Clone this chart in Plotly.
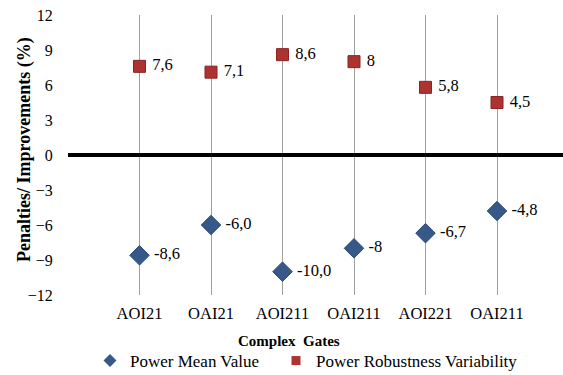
import plotly.graph_objects as go

categories = ["AOI21", "OAI21", "AOI211", "OAI211", "AOI221", "OAI211"]
x_pos = [1, 2, 3, 4, 5, 6]
mean_values = [-8.6, -6.0, -10.0, -8.0, -6.7, -4.8]
mean_labels = ["-8,6", "-6,0", "-10,0", "-8", "-6,7", "-4,8"]
robust_values = [7.6, 7.1, 8.6, 8.0, 5.8, 4.5]
robust_labels = ["7,6", "7,1", "8,6", "8", "5,8", "4,5"]
y_ticks = [12, 9, 6, 3, 0, -3, -6, -9, -12]

FONT = "Liberation Serif"
BLUE = "#37598A"
RED = "#AD3331"
W, H = 563, 375
# plot-area pixel box
PL, PR, PT, PB = 68, 563, 15, 295
NB = "\u00a0"

fig = go.Figure()
fig.add_trace(go.Scatter(
    x=x_pos, y=mean_values, mode="markers+text", name="Power Mean Value",
    text=[NB + s for s in mean_labels], textposition="middle right", showlegend=False,
    textfont=dict(family=FONT, size=16.5, color="black"),
    marker=dict(symbol="diamond", size=15, color=BLUE,
                line=dict(color="#2A4770", width=1)),
))
fig.add_trace(go.Scatter(
    x=x_pos, y=robust_values, mode="markers+text", name="Power Robustness Variability",
    text=[NB + s for s in robust_labels], textposition="middle right", showlegend=False,
    textfont=dict(family=FONT, size=16.5, color="black"),
    marker=dict(symbol="square", size=12, color=RED,
                line=dict(color="#8A2322", width=1)),
))
# legend entries (small symbols, as in the reference legend)
fig.add_trace(go.Scatter(x=[None], y=[None], mode="markers", name="Power Mean Value",
                         legend="legend",
                         marker=dict(symbol="diamond", size=10, color=BLUE)))
fig.add_trace(go.Scatter(x=[None], y=[None], mode="markers", name="Power Robustness Variability",
                         legend="legend2",
                         marker=dict(symbol="square", size=9, color=RED)))

leg_common = dict(orientation="h", y=(H - 361) / H, xanchor="left", yanchor="middle",
                  font=dict(family=FONT, size=17, color="black"),
                  itemwidth=30, bgcolor="rgba(0,0,0,0)", borderwidth=0)

fig.update_layout(
    width=W, height=H,
    margin=dict(l=0, r=0, t=0, b=0, autoexpand=False),
    plot_bgcolor="white", paper_bgcolor="white",
    font=dict(family=FONT, size=15, color="black"),
    showlegend=True,
    legend=dict(x=90 / W, **leg_common),
    legend2=dict(x=276 / W, **leg_common),
    xaxis=dict(domain=[PL / W, PR / W],
               range=[0, 6.923], tickvals=[0] + x_pos, ticktext=[""] + categories,
               showgrid=True, gridcolor="#A0A0A0", gridwidth=1,
               zeroline=False, showline=False, automargin=False,
               ticks="outside", ticklen=3, tickcolor="rgba(0,0,0,0)",
               tickfont=dict(family=FONT, size=16.5, color="black")),
    yaxis=dict(domain=[(H - PB) / H, (H - PT) / H],
               range=[-12, 12], tickvals=y_ticks,
               showgrid=False, zeroline=True, zerolinecolor="black", zerolinewidth=4,
               showline=False, automargin=False,
               ticks="outside", ticklen=11, tickcolor="rgba(0,0,0,0)",
               tickfont=dict(family=FONT, size=16, color="black")),
    annotations=[
        dict(text="<b>Complex  Gates</b>", xref="paper", yref="paper",
             x=289 / W, y=(H - 341) / H,
             xanchor="center", yanchor="middle", showarrow=False,
             font=dict(family=FONT, size=15, color="black")),
        dict(text="<b>Penalties/ Improvements (%)</b>", xref="paper", yref="paper",
             x=24 / W, y=(H - 150) / H, textangle=-90,
             xanchor="center", yanchor="middle", showarrow=False,
             font=dict(family=FONT, size=18, color="black")),
    ],
)

fig.write_html("out.html", config={"displayModeBar": False},
               post_script="document.body.style.margin='0';")
